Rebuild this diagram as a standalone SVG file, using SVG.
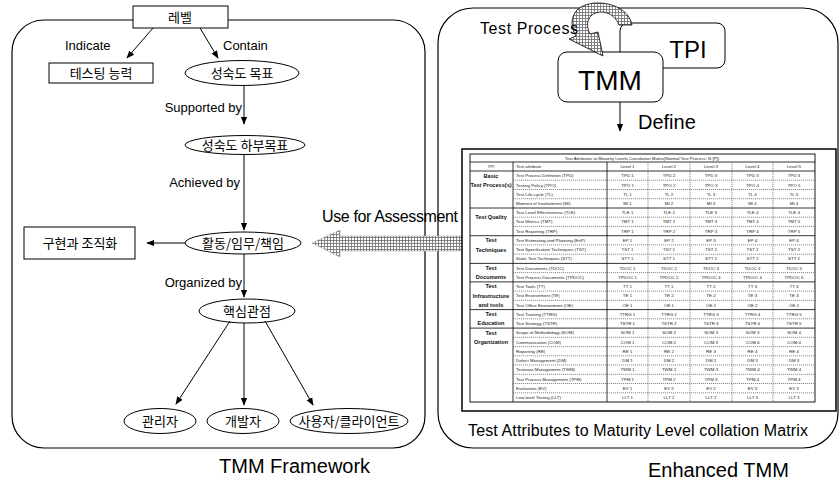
<svg xmlns="http://www.w3.org/2000/svg" width="840" height="480" viewBox="0 0 840 480">
<defs>
<style>
.s{font-family:"Liberation Sans",Arial,sans-serif;fill:#000}
.k{font-family:"Noto Sans CJK KR","Noto Sans CJK SC",sans-serif;font-size:13px;fill:#000;text-anchor:middle}
.lbl{font-family:"Liberation Sans",Arial,sans-serif;font-size:13px;fill:#000}
.ln{stroke:#000;stroke-width:1;fill:none}
.box{fill:#fff;stroke:#000;stroke-width:1}
.panel{fill:none;stroke:#000;stroke-width:1.2}
.tc{font-family:"Liberation Sans",Arial,sans-serif;font-size:4.4px;fill:#222}
.tv{text-anchor:middle}
.tg{font-family:"Liberation Sans",Arial,sans-serif;font-size:5.6px;text-anchor:middle;font-weight:bold;fill:#111}
.dl{stroke:#444;stroke-width:0.6;stroke-dasharray:1.2 0.8;fill:none}
.sl{stroke:#000;stroke-width:0.8;fill:none}
</style>
<marker id="ah" viewBox="0 0 10 10" refX="9" refY="5" markerWidth="8" markerHeight="8" orient="auto" markerUnits="userSpaceOnUse">
<path d="M0,1 L10,5 L0,9 Z" fill="#000"/>
</marker>
<pattern id="hatch" width="3" height="3" patternUnits="userSpaceOnUse">
<rect width="3" height="3" fill="#fff"/>
<path d="M0,0.5 H3 M0.5,0 V3" stroke="#777" stroke-width="0.9"/>
</pattern>
</defs>
<rect width="840" height="480" fill="#fff"/>

<!-- panels -->
<g id="panel-left"><rect class="panel" x="12" y="20" width="413" height="428" rx="32" ry="32"/>
<text class="s" x="219" y="473" font-size="20">TMM Framework</text></g>
<g id="panel-right"><rect class="panel" x="438" y="8" width="400" height="440" rx="35" ry="35"/>
<text class="s" x="648" y="477" font-size="20">Enhanced TMM</text></g>

<!-- left nodes -->
<g id="n-level"><rect class="box" x="133" y="6" width="95" height="22"/><text class="k" x="180" y="22">레벨</text></g>
<g id="n-ability"><rect class="box" x="49" y="63" width="104" height="20"/><text class="k" x="101" y="78">테스팅 능력</text></g>
<g id="n-goal"><ellipse class="box" cx="242" cy="73" rx="57" ry="12.5"/><text class="k" x="242" y="78">성숙도 목표</text></g>
<g id="n-subgoal"><ellipse class="box" cx="245" cy="145" rx="60" ry="9.5"/><text class="k" x="245" y="150">성숙도 하부목표</text></g>
<g id="n-activity"><ellipse class="box" cx="243" cy="243" rx="58" ry="11"/><text class="k" x="243" y="248">활동/임무/책임</text></g>
<g id="n-impl"><rect class="box" x="24" y="227" width="111" height="32"/><text class="k" x="80" y="248">구현과 조직화</text></g>
<g id="n-view"><ellipse class="box" cx="247" cy="311" rx="48" ry="12"/><text class="k" x="247" y="316">핵심관점</text></g>
<g id="n-manager"><ellipse class="box" cx="160" cy="421" rx="36" ry="12.5"/><text class="k" x="160" y="426">관리자</text></g>
<g id="n-dev"><ellipse class="box" cx="243" cy="421" rx="36" ry="12.5"/><text class="k" x="243" y="426">개발자</text></g>
<g id="n-user"><ellipse class="box" cx="349" cy="421" rx="59" ry="12.5"/><text class="k" x="349" y="426">사용자/클라이언트</text></g>

<!-- right nodes -->
<g id="n-tpi"><rect class="box" x="620" y="23" width="105" height="45" rx="8"/><text class="s" x="688" y="58" font-size="24" text-anchor="middle">TPI</text></g>
<g id="n-tmm"><rect class="box" x="558" y="52" width="105" height="50" rx="9"/><text class="s" x="610" y="90" font-size="28" text-anchor="middle">TMM</text></g>

<!-- connectors -->
<g id="connectors">
<line class="ln" x1="153" y1="28" x2="127" y2="58" marker-end="url(#ah)"/>
<line class="ln" x1="200" y1="28" x2="218" y2="58" marker-end="url(#ah)"/>
<line class="ln" x1="244" y1="85.5" x2="244" y2="124" marker-end="url(#ah)"/>
<line class="ln" x1="244" y1="154.5" x2="244" y2="230" marker-end="url(#ah)"/>
<line class="ln" x1="185" y1="243" x2="147" y2="243" marker-end="url(#ah)"/>
<line class="ln" x1="244" y1="254" x2="244" y2="297" marker-end="url(#ah)"/>
<line class="ln" x1="230" y1="321" x2="176" y2="404" marker-end="url(#ah)"/>
<line class="ln" x1="244" y1="323" x2="244" y2="405" marker-end="url(#ah)"/>
<line class="ln" x1="265" y1="321" x2="313" y2="405" marker-end="url(#ah)"/>
<line class="ln" x1="620" y1="102" x2="620" y2="131" marker-end="url(#ah)"/>
<path d="M632 25 C628 2 590 -3 577 10 C570 18 571 28 576 36 L569 39 L603 56 L598 32 L590 34 C586 26 587 19 592 15 C600 9 614 12 619 25 Z" fill="url(#hatch)" stroke="#000" stroke-width="0.8"/>
<path d="M312 243 L340 230 L340 236 L465 236 L465 251 L340 251 L340 257 Z" fill="url(#hatch)" stroke="#999" stroke-width="0.5"/>
<text class="lbl" x="65" y="50">Indicate</text>
<text class="lbl" x="223" y="50">Contain</text>
<text class="lbl" x="242" y="112" text-anchor="end">Supported by</text>
<text class="lbl" x="240" y="187" text-anchor="end">Achieved by</text>
<text class="lbl" x="242" y="287" text-anchor="end">Organized by</text>
<text class="s" x="322" y="222" font-size="16" textLength="136">Use for Assessment</text>
<text class="s" x="480" y="34" font-size="16" textLength="98">Test Process</text>
<text class="s" x="638" y="129" font-size="20">Define</text>
</g>

<!-- matrix -->
<g id="matrix">
<rect x="462" y="149" width="374" height="262" fill="#fff" stroke="#000" stroke-width="1.5"/>
<rect x="470" y="154" width="345" height="248" fill="none" stroke="#000" stroke-width="0.9"/>
<text class="tc tv" x="642" y="160.3" font-size="5.5">Test Attributes to Maturity Levels Correlation Matrix(Normal Test Process: N [P])</text>
<path class="sl" d="M470 162 H815 M470 171 H815 M470 208 H815 M470 235.7 H815 M470 263.4 H815 M470 281.9 H815 M470 309.6 H815 M470 328.1 H815 M513 162 V402 M607 162 V402"/>
<path class="dl" d="M513 180.2 H815 M513 189.5 H815 M513 198.7 H815 M513 217.2 H815 M513 226.4 H815 M513 244.9 H815 M513 254.2 H815 M513 272.6 H815 M513 291.1 H815 M513 300.4 H815 M513 318.8 H815 M513 337.3 H815 M513 346.6 H815 M513 355.8 H815 M513 365 H815 M513 374.3 H815 M513 383.5 H815 M513 392.8 H815 M648 162 V402 M690 162 V402 M732 162 V402 M773 162 V402"/>
<g class="tc">
<text class="tv" x="491" y="168.2">TPI</text><text x="516" y="168.2">Test attribute</text>
<text class="tv" x="627.5" y="168.2">Level 1</text><text class="tv" x="669" y="168.2">Level 2</text><text class="tv" x="711" y="168.2">Level 3</text><text class="tv" x="752.5" y="168.2">Level 4</text><text class="tv" x="794" y="168.2">Level 5</text>
</g>
<g class="tg">
<text x="491" y="177.5">Basic</text><text x="491" y="186.8">Test Process(s)</text>
<text x="491" y="219">Test Quality</text>
<text x="491" y="242">Test</text><text x="491" y="251.5">Techniques</text>
<text x="491" y="269.5">Test</text><text x="491" y="278.5">Documents</text>
<text x="491" y="288">Test</text><text x="491" y="297.5">Infrastructure</text><text x="491" y="306.5">and tools</text>
<text x="491" y="316">Test</text><text x="491" y="325">Education</text>
<text x="491" y="334.5">Test</text><text x="491" y="343.5">Organization</text>
</g>
<g class="tc">
<text x="516" y="177.2">Test Process Definition (TPD)</text><text class="tv" x="627.5" y="177.2">TPD 1</text><text class="tv" x="669" y="177.2">TPD 2</text><text class="tv" x="711" y="177.2">TPD 3</text><text class="tv" x="752.5" y="177.2">TPD 3</text><text class="tv" x="794" y="177.2">TPD 3</text>
<text x="516" y="186.5">Testing Policy (TPO)</text><text class="tv" x="627.5" y="186.5">TPO 1</text><text class="tv" x="669" y="186.5">TPO 2</text><text class="tv" x="711" y="186.5">TPO 3</text><text class="tv" x="752.5" y="186.5">TPO 4</text><text class="tv" x="794" y="186.5">TPO 5</text>
<text x="516" y="195.7">Test Life-cycle (TL)</text><text class="tv" x="627.5" y="195.7">TL 1</text><text class="tv" x="669" y="195.7">TL 2</text><text class="tv" x="711" y="195.7">TL 3</text><text class="tv" x="752.5" y="195.7">TL 4</text><text class="tv" x="794" y="195.7">TL 5</text>
<text x="516" y="204.9">Moment of Involvement (MI)</text><text class="tv" x="627.5" y="204.9">MI 1</text><text class="tv" x="669" y="204.9">MI 2</text><text class="tv" x="711" y="204.9">MI 3</text><text class="tv" x="752.5" y="204.9">MI 4</text><text class="tv" x="794" y="204.9">MI 4</text>
<text x="516" y="214.2">Test Level Effectiveness (TLE)</text><text class="tv" x="627.5" y="214.2">TLE 1</text><text class="tv" x="669" y="214.2">TLE 2</text><text class="tv" x="711" y="214.2">TLE 3</text><text class="tv" x="752.5" y="214.2">TLE 4</text><text class="tv" x="794" y="214.2">TLE 4</text>
<text x="516" y="223.4">Test Metrics (TMT)</text><text class="tv" x="627.5" y="223.4">TMT 1</text><text class="tv" x="669" y="223.4">TMT 2</text><text class="tv" x="711" y="223.4">TMT 3</text><text class="tv" x="752.5" y="223.4">TMT 4</text><text class="tv" x="794" y="223.4">TMT 5</text>
<text x="516" y="232.7">Test Reporting (TRP)</text><text class="tv" x="627.5" y="232.7">TRP 1</text><text class="tv" x="669" y="232.7">TRP 2</text><text class="tv" x="711" y="232.7">TRP 3</text><text class="tv" x="752.5" y="232.7">TRP 4</text><text class="tv" x="794" y="232.7">TRP 5</text>
<text x="516" y="241.9">Test Estimating and Planning (EnP)</text><text class="tv" x="627.5" y="241.9">EP 1</text><text class="tv" x="669" y="241.9">EP 2</text><text class="tv" x="711" y="241.9">EP 3</text><text class="tv" x="752.5" y="241.9">EP 4</text><text class="tv" x="794" y="241.9">EP 4</text>
<text x="516" y="251.1">Test Specification Techniques (TST)</text><text class="tv" x="627.5" y="251.1">TST 1</text><text class="tv" x="669" y="251.1">TST 1</text><text class="tv" x="711" y="251.1">TST 2</text><text class="tv" x="752.5" y="251.1">TST 2</text><text class="tv" x="794" y="251.1">TST 2</text>
<text x="516" y="260.4">Static Test Techniques (STT)</text><text class="tv" x="627.5" y="260.4">STT 1</text><text class="tv" x="669" y="260.4">STT 1</text><text class="tv" x="711" y="260.4">STT 2</text><text class="tv" x="752.5" y="260.4">STT 2</text><text class="tv" x="794" y="260.4">STT 2</text>
<text x="516" y="269.6">Test Documents (TDOC)</text><text class="tv" x="627.5" y="269.6">TDOC 1</text><text class="tv" x="669" y="269.6">TDOC 2</text><text class="tv" x="711" y="269.6">TDOC 3</text><text class="tv" x="752.5" y="269.6">TDOC 4</text><text class="tv" x="794" y="269.6">TDOC 5</text>
<text x="516" y="278.8">Test Process Documents (TPDOC)</text><text class="tv" x="627.5" y="278.8">TPDOC 1</text><text class="tv" x="669" y="278.8">TPDOC 2</text><text class="tv" x="711" y="278.8">TPDOC 3</text><text class="tv" x="752.5" y="278.8">TPDOC 4</text><text class="tv" x="794" y="278.8">TPDOC 5</text>
<text x="516" y="288.1">Test Tools (TT)</text><text class="tv" x="627.5" y="288.1">TT 1</text><text class="tv" x="669" y="288.1">TT 1</text><text class="tv" x="711" y="288.1">TT 2</text><text class="tv" x="752.5" y="288.1">TT 3</text><text class="tv" x="794" y="288.1">TT 3</text>
<text x="516" y="297.3">Test Environment (TE)</text><text class="tv" x="627.5" y="297.3">TE 1</text><text class="tv" x="669" y="297.3">TE 2</text><text class="tv" x="711" y="297.3">TE 2</text><text class="tv" x="752.5" y="297.3">TE 3</text><text class="tv" x="794" y="297.3">TE 3</text>
<text x="516" y="306.6">Test Office Environment (OE)</text><text class="tv" x="627.5" y="306.6">OE 1</text><text class="tv" x="669" y="306.6">OE 1</text><text class="tv" x="711" y="306.6">OE 2</text><text class="tv" x="752.5" y="306.6">OE 2</text><text class="tv" x="794" y="306.6">OE 2</text>
<text x="516" y="315.8">Test Training (TTRG)</text><text class="tv" x="627.5" y="315.8">TTRG 1</text><text class="tv" x="669" y="315.8">TTRG 2</text><text class="tv" x="711" y="315.8">TTRG 3</text><text class="tv" x="752.5" y="315.8">TTRG 4</text><text class="tv" x="794" y="315.8">TTRG 5</text>
<text x="516" y="325.1">Test Strategy (TSTR)</text><text class="tv" x="627.5" y="325.1">TSTR 1</text><text class="tv" x="669" y="325.1">TSTR 2</text><text class="tv" x="711" y="325.1">TSTR 3</text><text class="tv" x="752.5" y="325.1">TSTR 4</text><text class="tv" x="794" y="325.1">TSTR 5</text>
<text x="516" y="334.3">Scope of Methodology (SOM)</text><text class="tv" x="627.5" y="334.3">SOM 1</text><text class="tv" x="669" y="334.3">SOM 2</text><text class="tv" x="711" y="334.3">SOM 3</text><text class="tv" x="752.5" y="334.3">SOM 3</text><text class="tv" x="794" y="334.3">SOM 4</text>
<text x="516" y="343.5">Communication (COM)</text><text class="tv" x="627.5" y="343.5">COM 1</text><text class="tv" x="669" y="343.5">COM 2</text><text class="tv" x="711" y="343.5">COM 3</text><text class="tv" x="752.5" y="343.5">COM 4</text><text class="tv" x="794" y="343.5">COM 4</text>
<text x="516" y="352.8">Reporting (RE)</text><text class="tv" x="627.5" y="352.8">RE 1</text><text class="tv" x="669" y="352.8">RE 2</text><text class="tv" x="711" y="352.8">RE 3</text><text class="tv" x="752.5" y="352.8">RE 4</text><text class="tv" x="794" y="352.8">RE 4</text>
<text x="516" y="362">Defect Management (DM)</text><text class="tv" x="627.5" y="362">DM 1</text><text class="tv" x="669" y="362">DM 2</text><text class="tv" x="711" y="362">DM 2</text><text class="tv" x="752.5" y="362">DM 3</text><text class="tv" x="794" y="362">DM 3</text>
<text x="516" y="371.2">Testware Management (TWM)</text><text class="tv" x="627.5" y="371.2">TWM 1</text><text class="tv" x="669" y="371.2">TWM 2</text><text class="tv" x="711" y="371.2">TWM 3</text><text class="tv" x="752.5" y="371.2">TWM 4</text><text class="tv" x="794" y="371.2">TWM 4</text>
<text x="516" y="380.5">Test Process Management (TPM)</text><text class="tv" x="627.5" y="380.5">TPM 1</text><text class="tv" x="669" y="380.5">TPM 2</text><text class="tv" x="711" y="380.5">TPM 3</text><text class="tv" x="752.5" y="380.5">TPM 4</text><text class="tv" x="794" y="380.5">TPM 4</text>
<text x="516" y="389.7">Evaluation (EV)</text><text class="tv" x="627.5" y="389.7">EV 1</text><text class="tv" x="669" y="389.7">EV 2</text><text class="tv" x="711" y="389.7">EV 2</text><text class="tv" x="752.5" y="389.7">EV 3</text><text class="tv" x="794" y="389.7">EV 3</text>
<text x="516" y="399">Low-level Testing (LLT)</text><text class="tv" x="627.5" y="399">LLT 1</text><text class="tv" x="669" y="399">LLT 2</text><text class="tv" x="711" y="399">LLT 2</text><text class="tv" x="752.5" y="399">LLT 3</text><text class="tv" x="794" y="399">LLT 3</text>
</g>
<text class="s" x="468" y="436" font-size="16" textLength="340">Test Attributes to Maturity Level collation Matrix</text>
</g>
</svg>
